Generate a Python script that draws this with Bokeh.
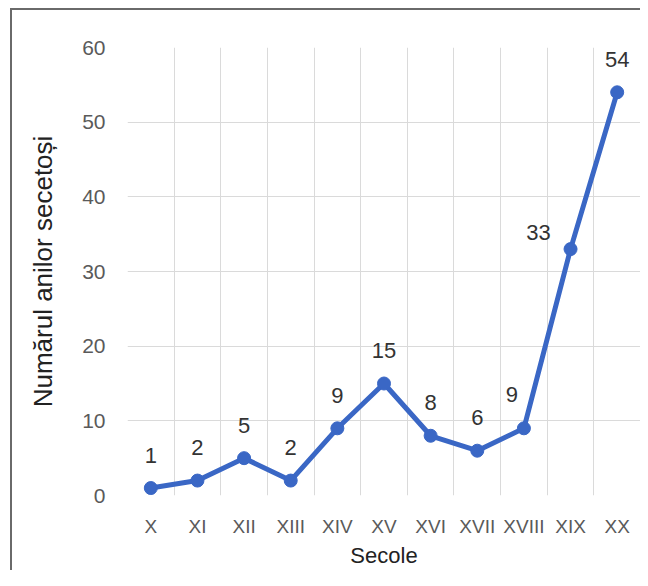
from bokeh.plotting import figure
from bokeh.models import ColumnDataSource, FactorRange, Range1d, FixedTicker
from bokeh.core.properties import value
from bokeh.embed import file_html
from bokeh.resources import INLINE

# ---- data ----
centuries = ["X", "XI", "XII", "XIII", "XIV", "XV", "XVI", "XVII", "XVIII", "XIX", "XX"]
drought_years = [1, 2, 5, 2, 9, 15, 8, 6, 9, 33, 54]
y_ticks = [0, 10, 20, 30, 40, 50, 60]
x_title = "Secole"
y_title = "Numărul anilor secetoși"

# label nudges (style only)
dx = [0] * len(centuries)
dy = [-33] * len(centuries)
dx[8], dy[8] = -12, -34
dx[9], dy[9] = -32, -17

src = ColumnDataSource(dict(
    x=centuries, y=drought_years, t=[str(v) for v in drought_years], dx=dx, dy=dy,
))

FONT = "Liberation Sans"
LINE = "#3a67c5"

p = figure(
    width=640, height=570,
    x_range=FactorRange(factors=centuries, range_padding=0),
    y_range=Range1d(0, 60),
    output_backend="svg", toolbar_location=None,
    min_border_left=127, min_border_right=0, min_border_top=47, min_border_bottom=74,
)
p.outline_line_color = None
p.background_fill_color = "white"
p.border_fill_color = None

# grid
p.xgrid.ticker = FixedTicker(ticks=list(range(len(centuries) + 1)))
p.xgrid.grid_line_color = "#dadada"
p.ygrid.grid_line_color = "#dadada"
p.xgrid.grid_line_width = 1
p.ygrid.grid_line_width = 1

# axes
p.yaxis.ticker = FixedTicker(ticks=y_ticks)
for ax in (p.xaxis, p.yaxis):
    ax.axis_line_color = None
    ax.major_tick_line_color = None
    ax.minor_tick_line_color = None
    ax.major_tick_out = 0
    ax.major_tick_in = 0
    ax.minor_tick_out = 0
    ax.minor_tick_in = 0
    ax.major_label_text_font = FONT
    ax.major_label_text_color = "#5a5a5a"
    ax.axis_label_text_font = FONT
    ax.axis_label_text_font_style = "normal"
    ax.axis_label_text_color = "#222222"

p.yaxis.major_label_text_font_size = "21px"
p.yaxis.major_label_standoff = 22
p.yaxis.axis_label = y_title
p.yaxis.axis_label_text_font_size = "26px"
p.yaxis.axis_label_standoff = 21

p.xaxis.major_label_text_font_size = "19px"
p.xaxis.major_label_standoff = 20
p.xaxis.axis_label = x_title
p.xaxis.axis_label_text_font_size = "22px"
p.xaxis.axis_label_standoff = 3

# series
p.line("x", "y", source=src, line_color=LINE, line_width=5)
p.scatter("x", "y", source=src, size=13, fill_color=LINE, line_color=LINE)
p.text("x", "y", text="t", source=src, x_offset="dx", y_offset="dy",
       text_align="center", text_baseline="middle",
       text_font=value(FONT), text_font_size="22px", text_color="#333333")

# outer frame of the chart, drawn behind the (transparent) canvas border area
p.styles = {
    "background": (
        "linear-gradient(#6a6a6a,#6a6a6a) 10px 8px / 2px calc(100% - 8px) no-repeat, "
        "linear-gradient(#6a6a6a,#6a6a6a) 10px 8px / calc(100% - 10px) 2px no-repeat, "
        "white"
    ),
}

open("out.html", "w").write(file_html(p, INLINE))
